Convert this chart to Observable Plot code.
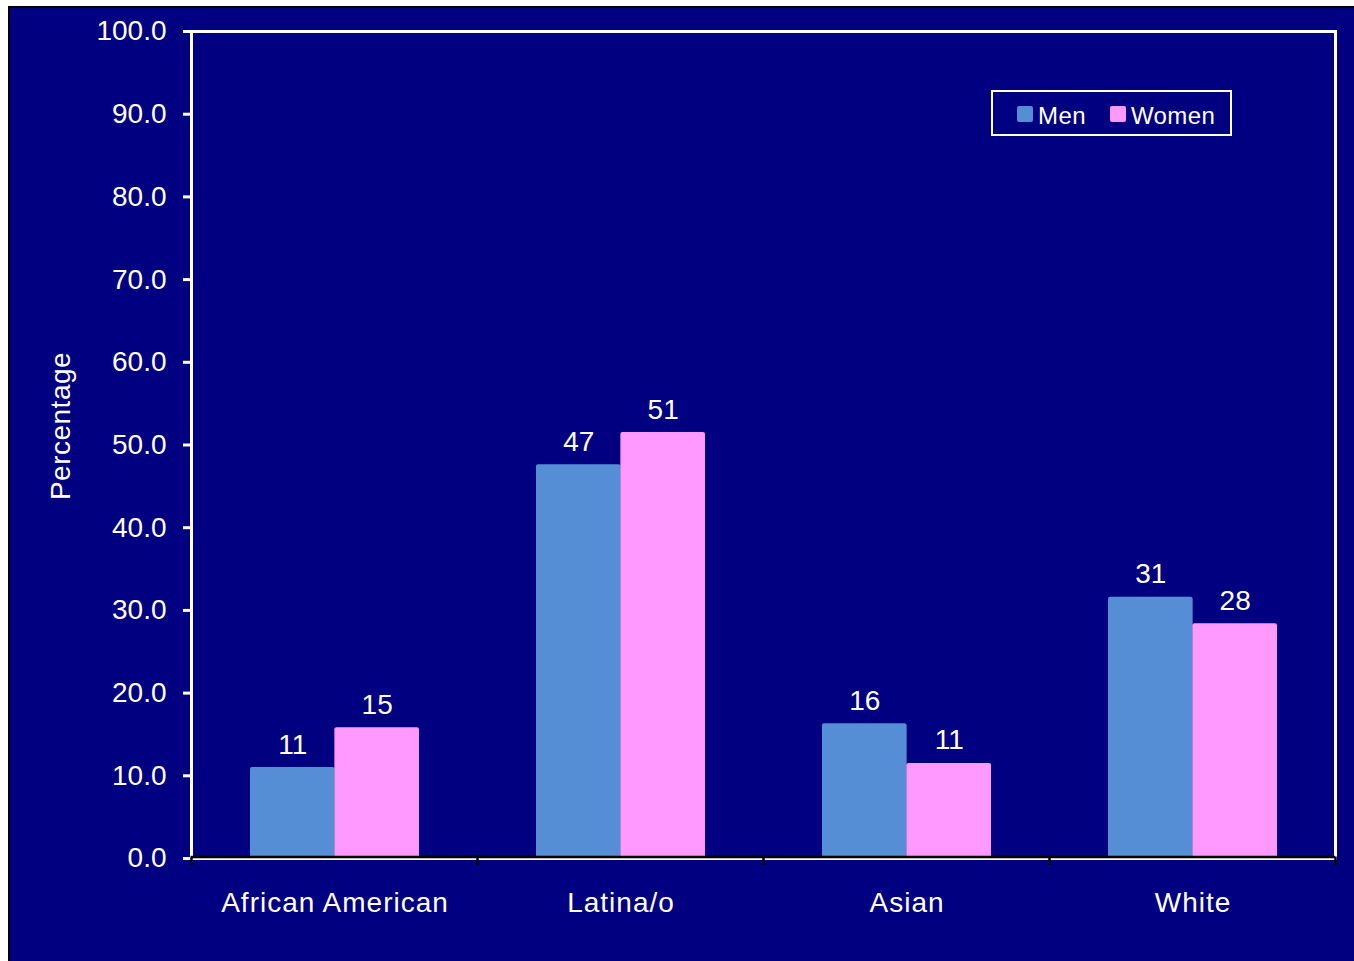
<!DOCTYPE html>
<html>
<head>
<meta charset="utf-8">
<script src="https://cdn.jsdelivr.net/npm/d3@7"></script>
<script src="https://cdn.jsdelivr.net/npm/@observablehq/plot@0.6"></script>
<style>
  body { margin: 0; background: #ffffff; font-family: "Liberation Sans", Arial, sans-serif; }
  #panel { position: absolute; left: 8px; top: 6px; width: 1346px; height: 955px; background: #000080;
           border-top: 2px solid #000; border-left: 2px solid #000; box-sizing: border-box; overflow: hidden; }
  #chart { position: absolute; left: 0; top: 0; }
  #legend { position: absolute; left: 981px; top: 82px; width: 241px; height: 46px; border: 2px solid #fff;
            box-sizing: border-box; color: #fff; font-size: 24px; display: flex; align-items: center; padding-left: 24px; }
  #legend .sw { width: 16px; height: 16px; border-radius: 2px; margin-right: 5px; margin-top: 1px; }
  #legend .lab { letter-spacing: 0.4px; position: relative; top: 3px; }
</style>
</head>
<body>
<div id="panel">
  <div id="chart"></div>
  <div id="legend"></div>
</div>
<script>
// ---- data ----
const categories = ["African American", "Latina/o", "Asian", "White"];
const sexes = ["Men", "Women"];
const menValues = [11.0, 47.6, 16.3, 31.6];
const womenValues = [15.8, 51.5, 11.5, 28.4];
const menLabels = ["11", "47", "16", "31"];
const womenLabels = ["15", "51", "11", "28"];
const yTicks = [0, 10, 20, 30, 40, 50, 60, 70, 80, 90, 100];
const colors = ["#558ed5", "#ff99ff"];

const menRows = categories.map((c, i) => ({category: c, sex: "Men", value: menValues[i], label: menLabels[i]}));
const womenRows = categories.map((c, i) => ({category: c, sex: "Women", value: womenValues[i], label: womenLabels[i]}));

const W = 1344, H = 953;
const mL = 181, mR = 19, mT = 23, mB = 103;
const padInner = 0.41, padOuter = 0.205;
const font = '"Liberation Sans", Arial, sans-serif';

// the same band layout Plot will use, to split each category band into two bars
const bw = d3.scaleBand(categories, [mL, W - mR]).paddingInner(padInner).paddingOuter(padOuter).bandwidth();
const half = bw / 2;

const fig = Plot.plot({
  width: W,
  height: H,
  marginLeft: mL,
  marginRight: mR,
  marginTop: mT,
  marginBottom: mB,
  style: {background: "transparent", color: "#fff", fontFamily: font},
  x: {domain: categories, paddingInner: padInner, paddingOuter: padOuter, label: null, axis: null},
  y: {domain: [0, 100], axis: null},
  marks: [
    Plot.frame({stroke: "#fff", strokeWidth: 3}),
    Plot.barY(menRows, {x: "category", y: "value", fill: colors[0], insetRight: half, rx: 2}),
    Plot.barY(womenRows, {x: "category", y: "value", fill: colors[1], insetLeft: half, rx: 2}),
    Plot.text(menRows, {x: "category", y: "value", text: "label", dx: -half / 2, dy: -14, lineAnchor: "bottom",
      fill: "#fff", fontSize: 28}),
    Plot.text(womenRows, {x: "category", y: "value", text: "label", dx: half / 2, dy: -14, lineAnchor: "bottom",
      fill: "#fff", fontSize: 28}),
    Plot.ruleY([0], {stroke: "#000", strokeWidth: 2.5, dy: -1.5}),
    Plot.axisY({ticks: yTicks, tickFormat: d => d.toFixed(1), tickSize: 8, tickPadding: 17,
      fontSize: 28, stroke: "#fff", strokeWidth: 3, fill: "#fff", label: null}),
    Plot.axisX({tickSize: 0, tickPadding: 34, fontSize: 28, fill: "#fff", label: null})
  ]
});

document.getElementById("chart").appendChild(fig);

const svg = d3.select(fig);
// slightly spaced category labels as in the original
svg.selectAll("g[aria-label='x-axis tick label'] text").attr("letter-spacing", "1px");

// category boundary ticks below the baseline, from the plot's own x scale
const xS = fig.scale("x");
const yS = fig.scale("y");
const gap = (xS.step - xS.bandwidth) / 2;
const bounds = categories.map(c => xS.apply(c) - gap)
  .concat([xS.apply(categories[categories.length - 1]) + xS.bandwidth + gap]);
const y0 = yS.apply(0);
svg.append("g").selectAll("line").data(bounds).join("line")
  .attr("x1", d => d).attr("x2", d => d)
  .attr("y1", y0 - 1.5).attr("y2", y0 + 7)
  .attr("stroke", "#000").attr("stroke-width", 2.5);

// y axis title
svg.append("text")
  .attr("transform", `translate(60, 418) rotate(-90)`)
  .attr("text-anchor", "middle")
  .attr("fill", "#fff")
  .attr("font-size", 28)
  .attr("letter-spacing", "0.5px")
  .attr("font-family", font)
  .text("Percentage");

// legend
const legend = d3.select("#legend");
sexes.forEach((s, i) => {
  legend.append("div").attr("class", "sw").style("background", colors[i]);
  legend.append("div").attr("class", "lab").style("margin-right", i === 0 ? "24px" : "0").text(s);
});
</script>
</body>
</html>
